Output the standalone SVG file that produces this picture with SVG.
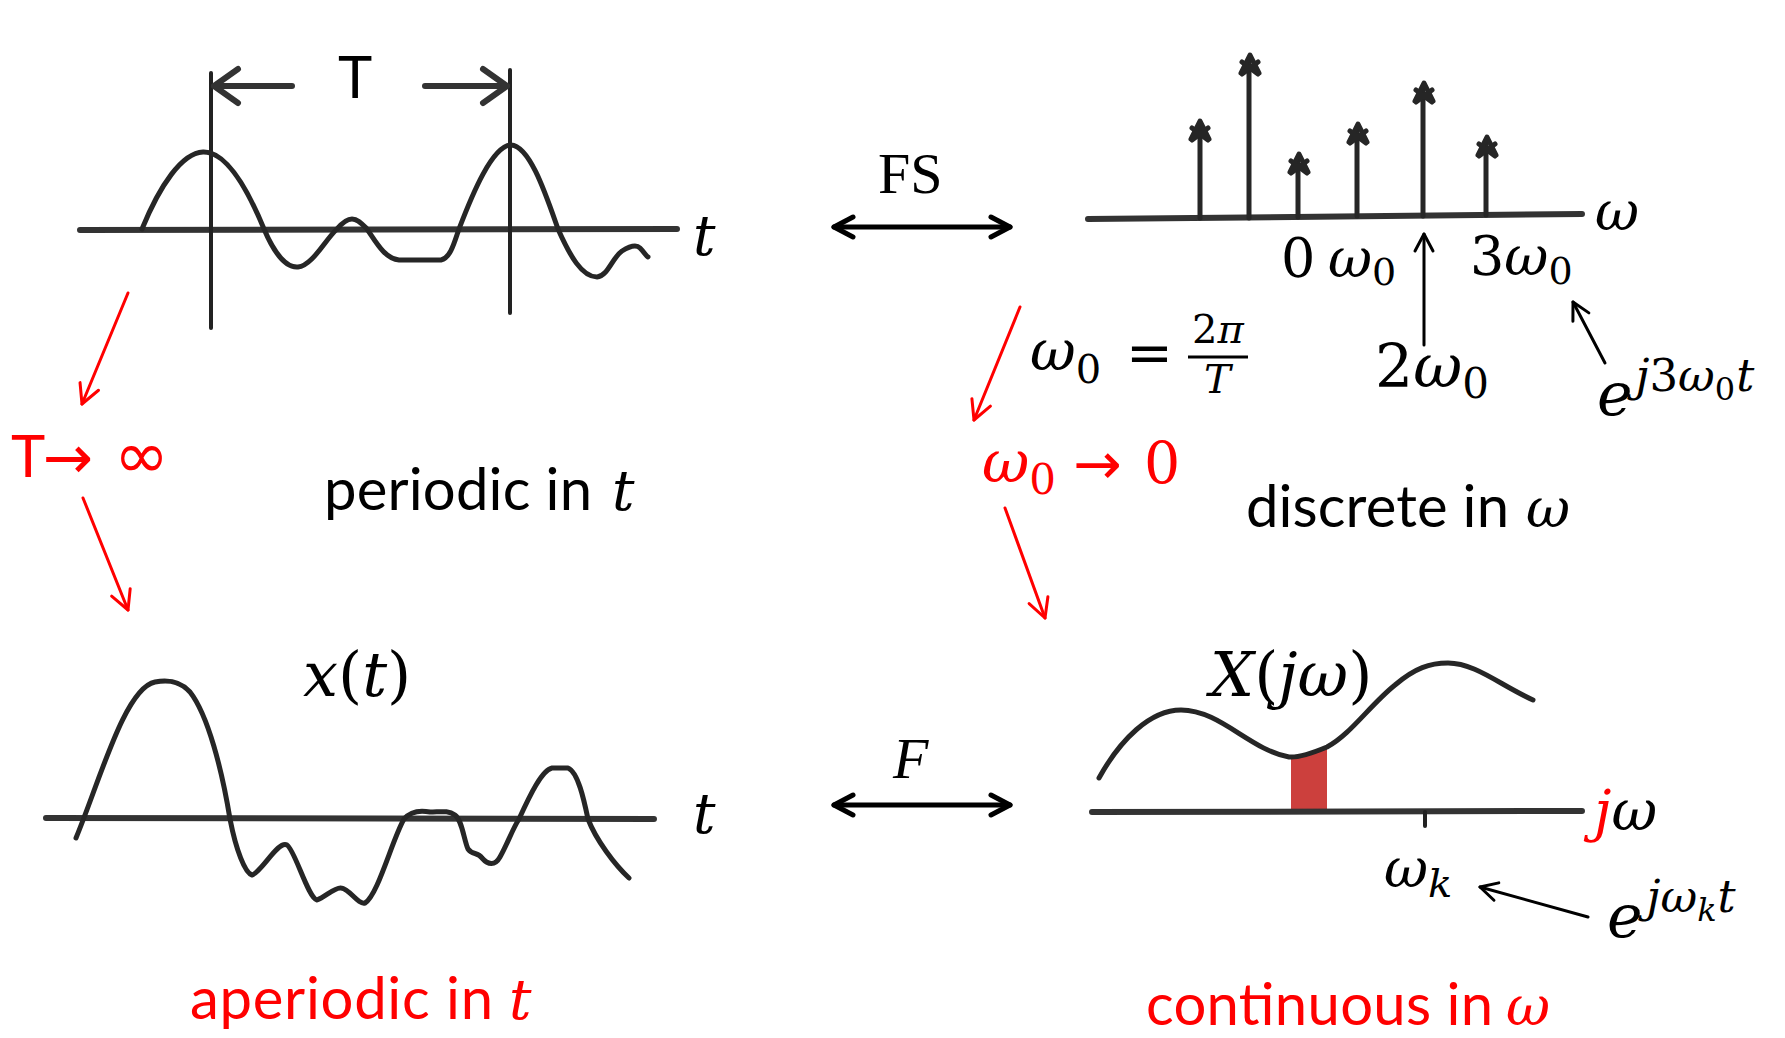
<svg xmlns="http://www.w3.org/2000/svg" width="1785" height="1038" viewBox="0 0 1785 1038">
  <style>
    .axis { fill: none; stroke: #333; stroke-width: 6; stroke-linecap: round; }
    .wave { fill: none; stroke: #262626; stroke-width: 5; stroke-linecap: round; stroke-linejoin: round; }
    .vline { fill: none; stroke: #222; stroke-width: 4; stroke-linecap: round; }
    .stem { fill: none; stroke: #262626; stroke-width: 5; stroke-linecap: round; stroke-linejoin: round; }
    .sans { font-family: Lato, "Open Sans", "Liberation Sans", sans-serif; font-size: 58px; }
    .math { font-family: "DejaVu Serif", "Liberation Serif", serif; }
    .times { font-family: "Liberation Serif", "DejaVu Serif", serif; }
    .sym { font-family: "DejaVu Sans", "Liberation Sans", sans-serif; }
    .it { font-style: italic; }
    .red { fill: #ff0000; }
    .blk { fill: #000; }
    .conn-thick { fill: none; stroke: #000; stroke-width: 5; stroke-linecap: round; }
    .conn-thin { fill: none; stroke: #000; stroke-width: 3; stroke-linecap: round; }
    .conn-red { fill: none; stroke: #ff0000; stroke-width: 3; stroke-linecap: round; }
    .conn-hand { fill: none; stroke: #333; stroke-width: 6; stroke-linecap: round; }
  </style>
  <defs>
    <marker id="ah-thick" viewBox="0 0 24 24" refX="21" refY="12" markerWidth="24" markerHeight="24" markerUnits="userSpaceOnUse" orient="auto-start-reverse" overflow="visible">
      <path d="M2 2 L21 12 L2 22" fill="none" stroke="#000" stroke-width="5" stroke-linecap="round" stroke-linejoin="round"/>
    </marker>
    <marker id="ah-thin" viewBox="0 0 24 24" refX="21" refY="12" markerWidth="24" markerHeight="24" markerUnits="userSpaceOnUse" orient="auto" overflow="visible">
      <path d="M4 3 L21 12 L4 21" fill="none" stroke="#000" stroke-width="3" stroke-linecap="round" stroke-linejoin="round"/>
    </marker>
    <marker id="ah-red" viewBox="0 0 24 24" refX="21" refY="12" markerWidth="24" markerHeight="24" markerUnits="userSpaceOnUse" orient="auto" overflow="visible">
      <path d="M2 2 L21 12 L2 22" fill="none" stroke="#ff0000" stroke-width="3" stroke-linecap="round" stroke-linejoin="round"/>
    </marker>
    <marker id="ah-hand" viewBox="0 0 40 40" refX="34" refY="20" markerWidth="40" markerHeight="40" markerUnits="userSpaceOnUse" orient="auto" overflow="visible">
      <path d="M10 3 L34 20 L10 37" fill="none" stroke="#333" stroke-width="6" stroke-linecap="round" stroke-linejoin="round"/>
    </marker>
    <path id="stemTip" d="M-9 18 L0 0 L9 18 M-8 7 L8 19 M8 7 L-8 19"/>
  </defs>

  <rect x="0" y="0" width="1785" height="1038" fill="#ffffff"/>

  <!-- Top-left: periodic signal -->
  <g id="periodic-signal">
    <line class="axis" x1="80" y1="230" x2="677" y2="229"/>
    <line class="vline" x1="211" y1="73" x2="211" y2="328"/>
    <line class="vline" x1="510" y1="70" x2="510" y2="313"/>
    <path class="wave" d="M142 229 C160 185 182 153 203 152 C228 151 250 195 264 229 C275 255 287 268 298 267 C312 266 325 240 337 229 C343 222 347 219 352 219 C358 219 362 224 367 229 C376 242 385 259 399 260 L441 260 C451 258 455 240 459 229 C472 195 492 146 511 145 C530 146 546 195 558 229 C570 256 582 277 597 277 C608 276 612 258 622 251 C630 246 636 244 640 248 C644 252 646 256 648 257"/>
    <text class="sans blk" x="338" y="98" font-size="56">T</text>
    <text class="math it blk" x="693" y="255" font-size="56">t</text>
  </g>

  <g id="label-periodic">
    <text class="blk" y="510"><tspan class="sans" x="324" textLength="268">periodic in</tspan><tspan class="math it" x="612" font-size="56">t</tspan></text>
  </g>

  <!-- Top-right: line spectrum -->
  <g id="line-spectrum">
    <line class="axis" x1="1088" y1="219" x2="1582" y2="214"/>
    <g class="stem">
      <line x1="1200" y1="218" x2="1200" y2="125"/>
      <line x1="1249" y1="218" x2="1249" y2="59"/>
      <line x1="1298" y1="217" x2="1298" y2="158"/>
      <line x1="1357" y1="216" x2="1357" y2="128"/>
      <line x1="1423" y1="216" x2="1423" y2="87"/>
      <line x1="1486" y1="215" x2="1486" y2="141"/>
      <use href="#stemTip" x="1200" y="121"/>
      <use href="#stemTip" x="1250" y="55"/>
      <use href="#stemTip" x="1299" y="154"/>
      <use href="#stemTip" x="1358" y="124"/>
      <use href="#stemTip" x="1424" y="83"/>
      <use href="#stemTip" x="1487" y="137"/>
    </g>
    <text class="math it blk" x="1595" y="230" font-size="54">ω</text>
    <text class="math blk" x="1281" y="277" font-size="54">0<tspan class="it" x="1328">ω</tspan><tspan font-size="38" dy="8">0</tspan></text>
    <text class="math blk" x="1470" y="275" font-size="54">3<tspan class="it">ω</tspan><tspan font-size="38" dy="9">0</tspan></text>
    <text class="math blk" x="1375" y="387" font-size="60">2<tspan class="it">ω</tspan><tspan font-size="42" dy="11">0</tspan></text>
    <text class="math blk" x="1597" y="415" font-size="60"><tspan class="it">e</tspan><tspan class="it" font-size="45" dx="3" dy="-24">j</tspan><tspan font-size="45">3</tspan><tspan class="it" font-size="45">ω</tspan><tspan font-size="32" dy="9">0</tspan><tspan class="it" font-size="45" dx="1" dy="-9">t</tspan></text>
  </g>

  <g id="label-omega0-def">
    <text class="math blk" x="1030" y="370" font-size="56"><tspan class="it">ω</tspan><tspan font-size="40" dy="13">0</tspan><tspan x="1126" y="372">=</tspan><tspan x="1192" y="343" font-size="40">2<tspan class="it">π</tspan></tspan><tspan class="it" x="1204" y="393" font-size="40">T</tspan></text>
    <line x1="1188" y1="357" x2="1248" y2="357" stroke="#000" stroke-width="3"/>
  </g>

  <g id="label-discrete">
    <text class="blk" y="527"><tspan class="sans" x="1246" textLength="263">discrete in</tspan><tspan class="math it" x="1526" font-size="54">ω</tspan></text>
  </g>

  <g id="label-T-limit">
    <text class="red" y="477"><tspan class="sans" x="11" font-size="56">T</tspan><tspan class="sym" x="43" y="478" font-size="60">→</tspan><tspan class="sym" x="114" y="478" font-size="66">∞</tspan></text>
  </g>

  <g id="label-omega0-limit">
    <text class="math red" x="982" y="482" font-size="58"><tspan class="it">ω</tspan><tspan font-size="42" dy="12">0</tspan><tspan class="sym" x="1073" y="484" font-size="58">→</tspan><tspan x="1144" y="483" font-size="57">0</tspan></text>
  </g>

  <!-- Bottom-left: aperiodic signal -->
  <g id="aperiodic-signal">
    <line class="axis" x1="46" y1="818" x2="654" y2="819"/>
    <path class="wave" d="M76 838 C100 780 125 688 155 682 C172 679 182 683 190 692 C208 715 222 770 230 819 C236 850 245 873 252 875 C262 872 278 840 287 845 C295 850 308 898 317 900 C325 897 335 887 341 888 C350 889 358 905 365 903 C378 895 392 840 404 819 C410 812 420 810 430 812 C440 812 448 810 455 815 C462 820 464 840 468 849 C472 855 478 852 482 858 C488 865 495 866 500 857 C507 845 512 830 519 819 C530 795 542 770 552 768 L568 768 C578 772 584 800 588 819 C596 840 615 865 629 878"/>
    <text class="math blk" x="303" y="696" font-size="62"><tspan class="it">x</tspan>(<tspan class="it">t</tspan>)</text>
    <text class="math it blk" x="693" y="833" font-size="56">t</text>
  </g>

  <g id="label-aperiodic">
    <text class="red" y="1019"><tspan class="sans" x="190" textLength="303">aperiodic in</tspan><tspan class="math it" x="509" font-size="56">t</tspan></text>
  </g>

  <!-- Bottom-right: continuous spectrum -->
  <g id="continuous-spectrum">
    <path d="M1291 812 L1291 756 C1300 758 1310 755 1327 747 L1327 812 Z" fill="#c8302c" fill-opacity="0.92"/>
    <line class="axis" x1="1092" y1="812" x2="1582" y2="811"/>
    <line class="vline" x1="1425" y1="812" x2="1425" y2="826"/>
    <path class="wave" d="M1099 778 C1120 740 1150 710 1181 710 C1220 710 1250 750 1289 757 C1300 758 1315 752 1327 747 C1350 735 1370 705 1395 685 C1415 668 1430 663 1448 663 C1475 663 1500 685 1533 700"/>
    <text class="math blk" x="1210" y="696" font-size="62"><tspan class="it">X</tspan>(<tspan class="it">jω</tspan>)</text>
    <text class="math" x="1594" y="830" font-size="56"><tspan class="it red">j</tspan><tspan class="it blk">ω</tspan></text>
    <text class="math blk" x="1384" y="887" font-size="54"><tspan class="it">ω</tspan><tspan class="it" font-size="40" dy="10">k</tspan></text>
    <text class="math blk" x="1607" y="937" font-size="60"><tspan class="it">e</tspan><tspan class="it" font-size="45" dx="4" dy="-25">j</tspan><tspan class="it" font-size="45">ω</tspan><tspan class="it" font-size="32" dy="9">k</tspan><tspan class="it" font-size="45" dx="1" dy="-9">t</tspan></text>
  </g>

  <g id="label-continuous">
    <text class="red" y="1025"><tspan class="sans" x="1146" textLength="347">continuous in</tspan><tspan class="math it" x="1506" font-size="54">ω</tspan></text>
  </g>

  <!-- Connectors -->
  <g id="connectors">
    <g id="fs-label"><text class="times blk" x="878" y="193" font-size="58">FS</text></g>
    <line class="conn-thick" x1="834" y1="227" x2="1010" y2="227" marker-start="url(#ah-thick)" marker-end="url(#ah-thick)"/>
    <g id="f-label"><text class="times it blk" x="893" y="778" font-size="58">F</text></g>
    <line class="conn-thick" x1="834" y1="805" x2="1010" y2="805" marker-start="url(#ah-thick)" marker-end="url(#ah-thick)"/>
    <line class="conn-hand" x1="292" y1="86" x2="214" y2="86" marker-end="url(#ah-hand)"/>
    <line class="conn-hand" x1="425" y1="86" x2="507" y2="86" marker-end="url(#ah-hand)"/>
    <line class="conn-red" x1="128" y1="293" x2="82" y2="404" marker-end="url(#ah-red)"/>
    <line class="conn-red" x1="83" y1="498" x2="128" y2="610" marker-end="url(#ah-red)"/>
    <line class="conn-red" x1="1020" y1="307" x2="974" y2="420" marker-end="url(#ah-red)"/>
    <line class="conn-red" x1="1005" y1="508" x2="1045" y2="618" marker-end="url(#ah-red)"/>
    <line class="conn-thin" x1="1424" y1="345" x2="1424" y2="234" marker-end="url(#ah-thin)"/>
    <line class="conn-thin" x1="1605" y1="363" x2="1573" y2="302" marker-end="url(#ah-thin)"/>
    <line class="conn-thin" x1="1588" y1="917" x2="1480" y2="887" marker-end="url(#ah-thin)"/>
  </g>
</svg>
